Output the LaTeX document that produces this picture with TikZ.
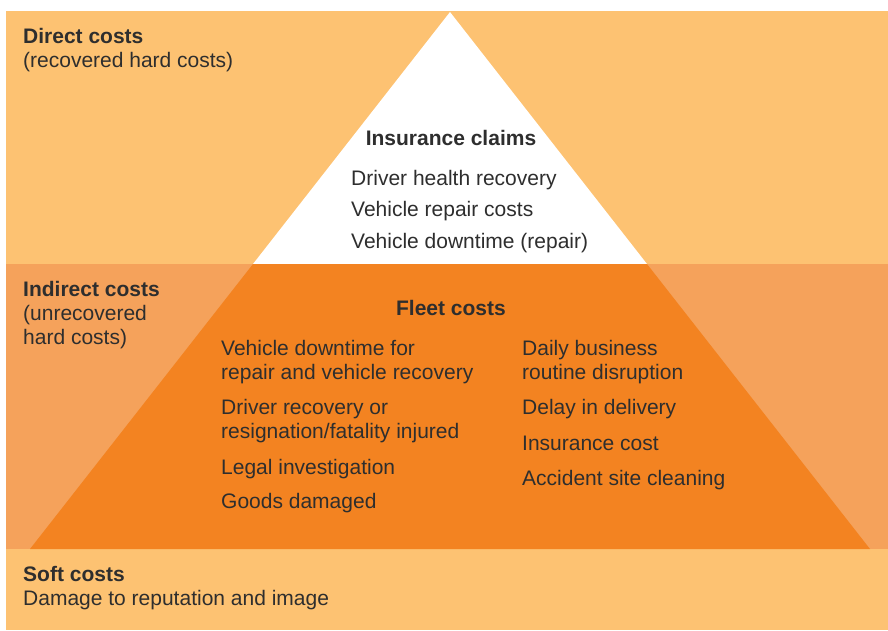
\documentclass[tikz,border=0pt]{standalone}
\usepackage{fontspec}
\setmainfont{Liberation Sans}
\definecolor{bandlight}{HTML}{FDC272}
\definecolor{bandmid}{HTML}{F5A25B}
\definecolor{fleetorange}{HTML}{F38321}
\definecolor{textgray}{HTML}{2E2E2E}
\tikzset{
  itemtext/.style={anchor=base west, inner sep=0pt, align=left, text=textgray,
    font=\fontsize{21}{24}\selectfont},
  headtext/.style={itemtext, font=\fontsize{21}{24}\selectfont\bfseries},
}
\begin{document}
\begin{tikzpicture}[x=1pt,y=-1pt]
	\useasboundingbox (0,0) rectangle (888,630);
	% bands
	\fill[bandlight] (6,11) rectangle (888,264);
	\fill[bandmid] (6,264) rectangle (888,549);
	\fill[bandlight] (6,549) rectangle (888,630);
	% pyramid
	\fill[white] (450,12) -- (253,264) -- (647,264) -- cycle;
	\fill[fleetorange] (253,264) -- (30,549) -- (870,549) -- (647,264) -- cycle;

	% band labels (base of a two-line node is its last line)
	\node[headtext] (direct) at (23,43) {Direct costs};
	\node[itemtext] (directsub) at (23,67) {(recovered hard costs)};
	\node[headtext] (indirect) at (23,296) {Indirect costs};
	\node[itemtext] (indirectsub) at (23,344) {(unrecovered\\hard costs)};
	\node[headtext] (soft) at (23,581) {Soft costs};
	\node[itemtext] (softsub) at (23,605) {Damage to reputation and image};

	\node[headtext, anchor=base] (claims) at (451,145) {Insurance claims};
	\node[itemtext] (health) at (351,185) {Driver health recovery};
	\node[itemtext] (repair) at (351,216) {Vehicle repair costs};
	\node[itemtext] (downtime) at (351,248) {Vehicle downtime (repair)};

	\node[headtext, anchor=base] (fleet) at (451,315) {Fleet costs};
	\node[itemtext] (vehicle) at (221,379) {Vehicle downtime for\\repair and vehicle recovery};
	\node[itemtext] (driver) at (221,438) {Driver recovery or\\resignation/fatality injured};
	\node[itemtext] (legal) at (221,474) {Legal investigation};
	\node[itemtext] (goods) at (221,508) {Goods damaged};
	\node[itemtext] (routine) at (522,379) {Daily business\\routine disruption};
	\node[itemtext] (delay) at (522,414) {Delay in delivery};
	\node[itemtext] (insurance) at (522,450) {Insurance cost};
	\node[itemtext] (cleaning) at (522,485) {Accident site cleaning};
\end{tikzpicture}
\end{document}
